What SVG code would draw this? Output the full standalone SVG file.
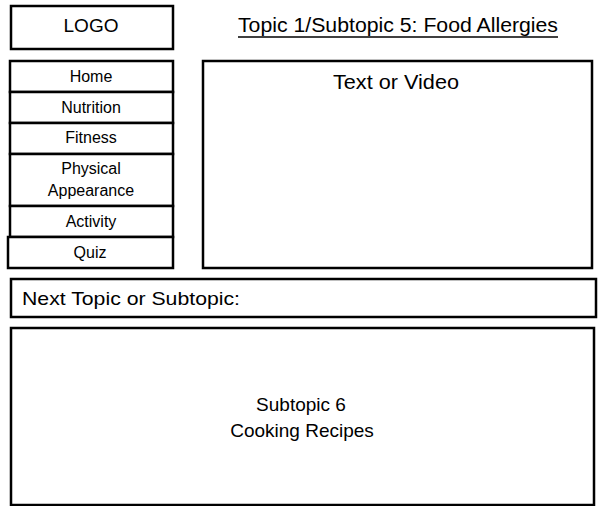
<svg xmlns="http://www.w3.org/2000/svg" width="600" height="506" viewBox="0 0 600 506">
<style>
rect{fill:#fff;stroke:#000;stroke-width:2.5}
text{font-family:"Liberation Sans",Arial,sans-serif;fill:#000}
.c{text-anchor:middle}
.nav{font-size:16px}
.big{font-size:19px}
</style>
<rect x="0" y="0" width="600" height="506" style="stroke:none"/>
<g id="logo"><rect x="11" y="6" width="162" height="43"/><text class="c" x="91" y="32" font-size="19">LOGO</text></g>
<g id="title"><text class="c" x="398" y="32" font-size="20" textLength="320" lengthAdjust="spacingAndGlyphs">Topic 1/Subtopic 5: Food Allergies</text><line x1="238" y1="37" x2="558" y2="37" stroke="#000" stroke-width="1.5"/></g>
<g id="nav-home"><rect x="10" y="61" width="163" height="31"/><text class="c nav" x="91" y="82">Home</text></g>
<g id="nav-nutrition"><rect x="10" y="92" width="163" height="31"/><text class="c nav" x="91" y="113">Nutrition</text></g>
<g id="nav-fitness"><rect x="10" y="123" width="163" height="31"/><text class="c nav" x="91" y="143">Fitness</text></g>
<g id="nav-physical"><rect x="10" y="154" width="163" height="52"/><text class="c nav" x="91" y="174">Physical</text><text class="c nav" x="91" y="196">Appearance</text></g>
<g id="nav-activity"><rect x="10" y="206" width="163" height="31"/><text class="c nav" x="91" y="227">Activity</text></g>
<g id="nav-quiz"><rect x="8" y="237" width="165" height="31"/><text class="c nav" x="90" y="258">Quiz</text></g>
<g id="content"><rect x="203" y="61" width="389" height="207"/><text class="c" x="396" y="89" font-size="20" textLength="126" lengthAdjust="spacingAndGlyphs">Text or Video</text></g>
<g id="next"><rect x="11" y="279" width="585" height="38"/><text class="big" x="22" y="305" textLength="218" lengthAdjust="spacingAndGlyphs">Next Topic or Subtopic:</text></g>
<g id="subtopic"><rect x="11" y="328" width="583" height="177"/><text class="c big" x="301" y="411">Subtopic 6</text><text class="c big" x="302" y="437">Cooking Recipes</text></g>
<g id="connectors"/>
</svg>
